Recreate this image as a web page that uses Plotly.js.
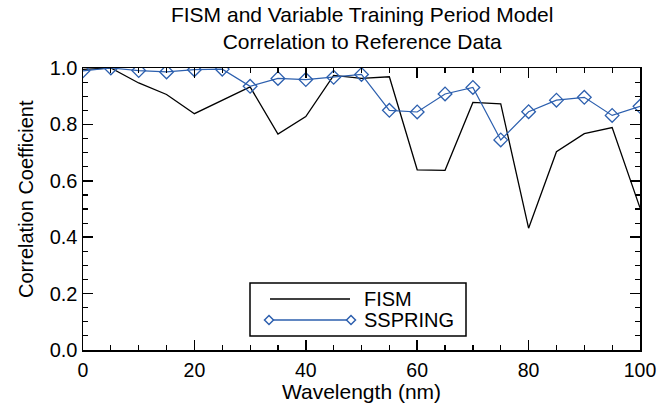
<!DOCTYPE html>
<html>
<head>
<meta charset="utf-8">
<script src="https://cdn.plot.ly/plotly-3.0.1.min.js"></script>
<style>html,body{margin:0;padding:0;background:#fff;}#chart{width:672px;height:403px;}</style>
</head>
<body>
<div id="chart"></div>
<script>
var wavelength = [0,5,10,15,20,25,30,35,40,45,50,55,60,65,70,75,80,85,90,95,100];
var fism = [0.995,1.0,0.947,0.906,0.838,0.885,0.933,0.766,0.828,0.974,0.963,0.969,0.639,0.637,0.878,0.873,0.432,0.703,0.767,0.789,0.504];
var sspring = [0.99,1.0,0.991,0.986,0.994,0.996,0.935,0.963,0.959,0.967,0.977,0.85,0.844,0.908,0.931,0.745,0.845,0.886,0.896,0.832,0.864];
var seriesNames = ['FISM', 'SSPRING'];
var xTicks = [0,20,40,60,80,100];
var yTicks = [0,0.2,0.4,0.6,0.8,1.0];
var yTickLabels = ['0.0','0.2','0.4','0.6','0.8','1.0'];
var xTitle = 'Wavelength (nm)';
var yTitle = 'Correlation Coefficient';

var font = 'Liberation Sans, Arial, sans-serif';
var blue = '#2c5fae';
var fs = 20;
var fsTitle = 21;
var M = {l: 83, r: 32, t: 68, b: 53};
var W = 672, H = 403;
var pw = W - M.l - M.r, ph = H - M.t - M.b;
function px(x) { return (x - M.l) / pw; }
function py(y) { return (H - M.b - y) / ph; }

var traces = [
  {x: wavelength, y: fism, name: seriesNames[0], type: 'scatter', mode: 'lines',
   line: {color: '#000000', width: 1.3}, showlegend: false},
  {x: wavelength, y: sspring, name: seriesNames[1], type: 'scatter', mode: 'lines+markers',
   line: {color: blue, width: 1.2}, showlegend: false,
   marker: {symbol: 'diamond-open', size: 10.5, color: blue, line: {width: 1.3, color: blue}}}
];

// custom legend (box, samples, labels)
function diamond(cx, cy, r) {
  var dx = r / pw, dy = r / ph;
  var X = px(cx), Y = py(cy);
  return 'M' + (X - dx) + ',' + Y + ' L' + X + ',' + (Y + dy) + ' L' + (X + dx) + ',' + Y + ' L' + X + ',' + (Y - dy) + ' Z';
}
var shapes = [
  {type: 'rect', xref: 'paper', yref: 'paper', x0: px(250), x1: px(466), y0: py(336), y1: py(283),
   line: {color: '#000', width: 1.5}, fillcolor: '#fff', layer: 'above'},
  {type: 'line', xref: 'paper', yref: 'paper', x0: px(270), x1: px(350), y0: py(299), y1: py(299),
   line: {color: '#000', width: 1.3}, layer: 'above'},
  {type: 'line', xref: 'paper', yref: 'paper', x0: px(269), x1: px(351), y0: py(320), y1: py(320),
   line: {color: blue, width: 1.3}, layer: 'above'},
  {type: 'path', xref: 'paper', yref: 'paper', path: diamond(269, 320, 4.5), line: {color: blue, width: 1.5}, fillcolor: '#fff', layer: 'above'},
  {type: 'path', xref: 'paper', yref: 'paper', path: diamond(351, 320, 4.5), line: {color: blue, width: 1.5}, fillcolor: '#fff', layer: 'above'}
];
var annotations = [
  {xref: 'paper', yref: 'paper', x: px(362), y: py(299), xanchor: 'left', yanchor: 'middle', showarrow: false,
   text: seriesNames[0], font: {family: font, size: fs, color: '#000'}},
  {xref: 'paper', yref: 'paper', x: px(362), y: py(320), xanchor: 'left', yanchor: 'middle', showarrow: false,
   text: seriesNames[1], font: {family: font, size: fs, color: '#000'}},
  {xref: 'paper', yref: 'paper', x: px(26), y: py(199), xanchor: 'center', yanchor: 'middle', showarrow: false,
   textangle: -90, text: yTitle, font: {family: font, size: fs, color: '#000'}}
];

var axisCommon = {
  showgrid: false, zeroline: false, showline: true, linecolor: '#000', linewidth: 1.5,
  mirror: 'allticks', ticks: 'inside', ticklen: 10, tickwidth: 1.5, tickcolor: '#000',
  tickfont: {family: font, size: fs, color: '#000'}
};
var layout = {
  width: W, height: H,
  margin: M,
  paper_bgcolor: '#fff', plot_bgcolor: '#fff',
  font: {family: font, color: '#000'},
  title: {text: 'FISM and Variable Training Period Model<br>Correlation to Reference Data',
          font: {family: font, size: fsTitle, color: '#000'}, x: 0.539, xanchor: 'center',
          yref: 'container', y: 0.945, yanchor: 'top'},
  xaxis: Object.assign({}, axisCommon, {
    range: [0, 100], tickvals: xTicks, ticktext: xTicks.map(String), ticklabelstandoff: 2,
    tickfont: {family: font, size: 19.5, color: '#000'},
    minor: {dtick: 5, ticks: 'inside', ticklen: 5, tickwidth: 1.2, tickcolor: '#000'},
    title: {text: xTitle, font: {family: font, size: fsTitle, color: '#000'}, standoff: 2}
  }),
  yaxis: Object.assign({}, axisCommon, {
    range: [0, 1.0], tickvals: yTicks, ticktext: yTickLabels,
    minor: {dtick: 0.05, ticks: 'inside', ticklen: 5, tickwidth: 1.2, tickcolor: '#000'}
  }),
  showlegend: false,
  shapes: shapes,
  annotations: annotations
};
Plotly.newPlot('chart', traces, layout, {displayModeBar: false, staticPlot: true});
</script>
</body>
</html>
